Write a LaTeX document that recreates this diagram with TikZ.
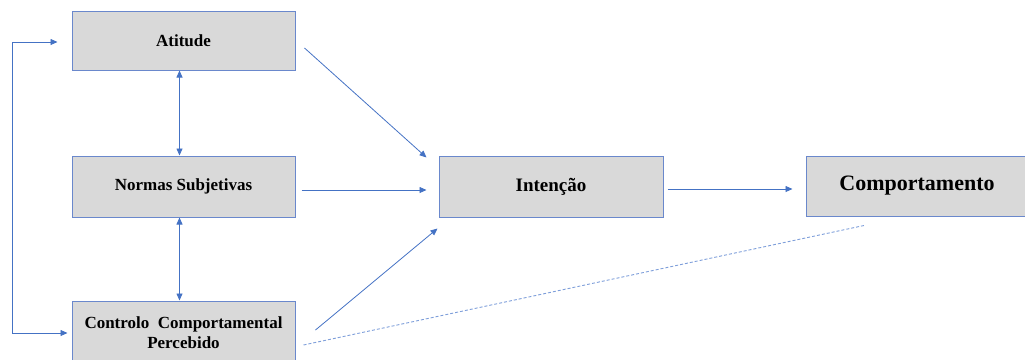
\documentclass[tikz,border=0pt]{standalone}
\usepackage{fontspec}
\setmainfont{Liberation Serif}
\usetikzlibrary{arrows.meta,calc}
\definecolor{lineblue}{HTML}{4472C4}
\definecolor{boxblue}{HTML}{6A88CC}
\definecolor{boxgray}{HTML}{D9D9D9}
\definecolor{dashblue}{HTML}{7E9EDA}
\tikzset{
  boxnode/.style={draw=boxblue, line width=1pt, fill=boxgray, minimum width=223pt, inner sep=0pt, font=\bfseries, text=black, align=center},
  arr/.style={draw=lineblue, line width=0.8pt, -{Triangle[length=7pt,width=6pt]}},
  darr/.style={draw=lineblue, line width=0.8pt, {Triangle[length=7pt,width=6pt]}-{Triangle[length=7pt,width=6pt]}},
  dashline/.style={draw=dashblue, line width=0.9pt, dash pattern=on 3pt off 2pt}
}
\begin{document}
\begin{tikzpicture}[x=1pt,y=-1pt]
\useasboundingbox (0,0) rectangle (1025,359);
\begin{scope}
\clip (0,0) rectangle (1025,359);
\node[boxnode, minimum height=59pt, font=\fontsize{17}{20}\selectfont\bfseries] (ati) at (183.5,40.5) {Atitude};
\node[boxnode, minimum height=61pt, font=\fontsize{17}{20}\selectfont\bfseries] (nor) at (183.5,186.5) {Normas Subjetivas};
\node[boxnode, minimum height=64pt, font=\fontsize{17}{20}\selectfont\bfseries] (ctl) at (183.5,333) {Controlo\ \ Comportamental\\Percebido};
\node[boxnode, minimum width=224pt, minimum height=61pt, font=\fontsize{19}{22}\selectfont\bfseries] (int) at (551,186.5) {Intenção};
\node[boxnode, minimum width=222pt, minimum height=60pt, font=\fontsize{22}{26}\selectfont\bfseries] (com) at (917,186) {Comportamento};
\end{scope}
% vertical double arrows
\draw[darr] ([xshift=-4pt]ati.south) -- ([xshift=-4pt]nor.north);
\draw[darr] ([xshift=-4pt]nor.south) -- ([xshift=-4pt]ctl.north);
% feedback loop
\coordinate (ta) at ([xshift=-14pt,yshift=-1.5pt]ati.west);
\coordinate (tc) at ([xshift=-4pt]ctl.west);
\coordinate (lx) at (12,0);
\draw[darr] (ta) -- (ta -| lx) -- (tc -| lx) -- (tc);
% arrows to intention
\draw[arr] ([xshift=9pt,yshift=-7.5pt]ati.east) -- ([xshift=-12pt,yshift=-2pt]int.north west);
\draw[arr] ([xshift=6pt,yshift=-3.5pt]nor.east) -- ([xshift=-12pt,yshift=-3.5pt]int.west);
\draw[arr] ([xshift=20pt,yshift=3pt]ctl.east) -- ([xshift=-1pt,yshift=-11pt]int.south west);
\draw[arr] ([xshift=4pt,yshift=-2.5pt]int.east) -- ([xshift=-13pt,yshift=-3pt]com.west);
% dashed
\draw[dashline] ([xshift=8pt,yshift=-12pt]ctl.east) -- ([xshift=-53pt,yshift=-9pt]com.south);
\end{tikzpicture}
\end{document}
